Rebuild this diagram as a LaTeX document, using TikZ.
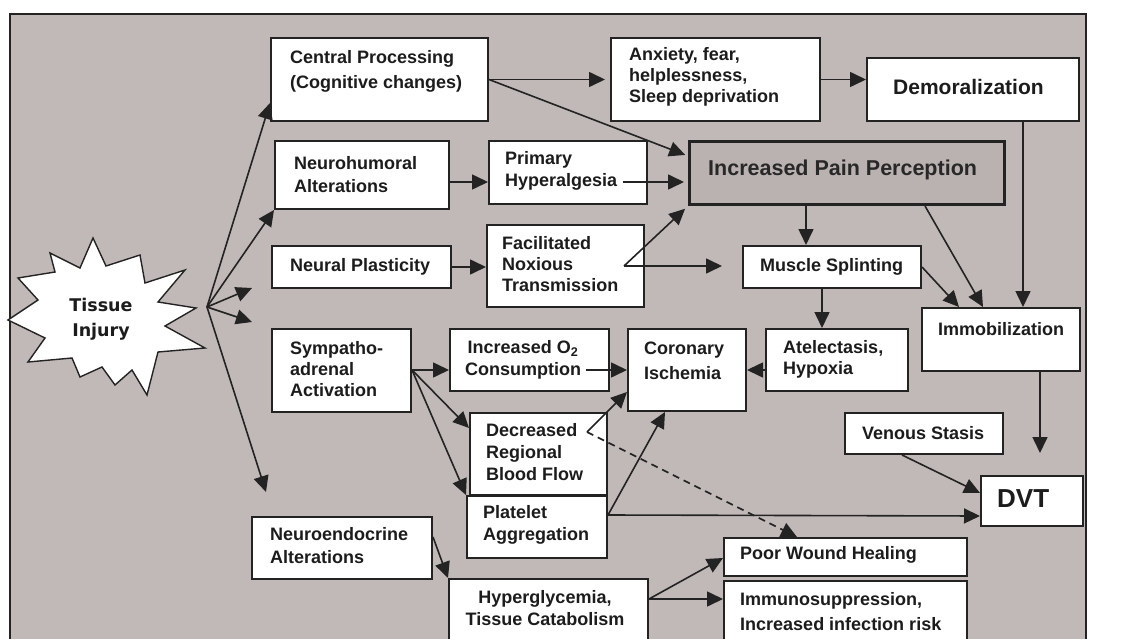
\documentclass[tikz,border=0pt]{standalone}
\usepackage{fontspec}
\setmainfont{Liberation Sans}
\newfontfamily\starfont{DejaVu Sans}
\usetikzlibrary{arrows.meta}
\definecolor{bgc}{RGB}{193,185,184}
\definecolor{painc}{RGB}{186,178,177}
\definecolor{linec}{RGB}{35,35,35}
\definecolor{txtc}{RGB}{28,28,28}
\tikzset{
  box/.style={draw=linec, line width=2pt, fill=white, anchor=north west, inner sep=0pt},
  txt/.style={font=\bfseries\fontsize{18}{22}\selectfont, text=txtc, inner sep=0pt, align=left, anchor=west},
  arr/.style={draw=linec, line width=1.6pt, -{Triangle[length=16pt,width=15pt]}},
}
\newcommand{\bs}[1]{\bfseries\fontsize{18}{#1}\selectfont}
\begin{document}
\begin{tikzpicture}[x=1pt,y=-1pt]
\useasboundingbox (0,0) rectangle (1124,639);
\clip (0,0) rectangle (1124,639);
\draw[linec, line width=1.6pt, fill=bgc] (10,14) rectangle (1086,680);

% starburst
\draw[linec, line width=1.4pt, fill=white]
  (8,320) -- (38,300) -- (18,278) -- (55,272) -- (50,253) -- (80,268) -- (93,238)
  -- (106,266) -- (140,255) -- (145,283) -- (185,270) -- (158,302) -- (196,308)
  -- (165,326) -- (205,348) -- (158,352) -- (147,395) -- (132,370) -- (115,385)
  -- (102,367) -- (80,377) -- (72,358) -- (28,362) -- (45,338) -- cycle;
\node[font=\starfont\bfseries\fontsize{17.5}{25}\selectfont, text=txtc, align=center, inner sep=0pt] (ti) at (101,319) {Tissue\\Injury};

% boxes
\node[box, minimum width=217pt, minimum height=83pt] (cp) at (270,37) {};
\node[box, minimum width=209pt, minimum height=83pt] (anx) at (610,37) {};
\node[box, minimum width=212pt, minimum height=63pt] (dem) at (866,57) {};
\node[box, minimum width=174pt, minimum height=68pt] (neu) at (274,140) {};
\node[box, minimum width=158pt, minimum height=63pt] (ph) at (488,140) {};
\node[box, minimum width=315pt, minimum height=63pt, fill=painc, line width=3pt] (pain) at (688,140) {};
\node[box, minimum width=179pt, minimum height=42pt] (np) at (271,245) {};
\node[box, minimum width=157pt, minimum height=82pt] (fnt) at (486,224) {};
\node[box, minimum width=178pt, minimum height=42pt] (ms) at (742,245) {};
\node[box, minimum width=158pt, minimum height=63pt] (imm) at (921,307) {};
\node[box, minimum width=139pt, minimum height=83pt] (sym) at (271,328) {};
\node[box, minimum width=159pt, minimum height=62pt] (o2) at (449,328) {};
\node[box, minimum width=118pt, minimum height=82pt] (cor) at (627,328) {};
\node[box, minimum width=142pt, minimum height=62pt] (atel) at (765,328) {};
\node[box, minimum width=158pt, minimum height=41pt] (vs) at (844,412) {};
\node[box, minimum width=137pt, minimum height=82pt] (drbf) at (469,412) {};
\node[box, minimum width=102pt, minimum height=50pt] (dvt) at (980,475) {};
\node[box, minimum width=140pt, minimum height=62pt] (plat) at (466,495) {};
\node[box, minimum width=180pt, minimum height=62pt] (ne) at (251,516) {};
\node[box, minimum width=243pt, minimum height=38pt] (pwh) at (723,537) {};
\node[box, minimum width=199pt, minimum height=80pt] (hyp) at (448,578) {};
\node[box, minimum width=243pt, minimum height=80pt] (imu) at (723,580) {};

% texts
\node[txt, font=\bs{25}] (cp-t) at (290,71) {Central Processing\\(Cognitive changes)};
\node[txt, font=\bs{21}] (anx-t) at (629,77) {Anxiety, fear,\\helplessness,\\Sleep deprivation};
\node[txt, font=\bfseries\fontsize{21}{25}\selectfont] (dem-t) at (893,87) {Demoralization};
\node[txt, font=\bs{23}] (neu-t) at (294,175) {Neurohumoral\\Alterations};
\node[txt] (ph-t) at (505,171) {Primary\\Hyperalgesia};
\node[txt, font=\bfseries\fontsize{21.5}{25}\selectfont, text={rgb,255:red,40;green,40;blue,40}] (pain-t) at (708,170) {Increased Pain Perception};
\node[txt] (np-t) at (290,267) {Neural Plasticity};
\node[txt, font=\bs{21}] (fnt-t) at (502,264) {Facilitated\\Noxious\\Transmission};
\node[txt] (ms-t) at (760,267) {Muscle Splinting};
\node[txt] (imm-t) at (938,329) {Immobilization};
\node[txt, font=\bs{21}] (sym-t) at (290,369) {Sympatho-\\adrenal\\Activation};
\node[txt, align=center, anchor=center] (o2-t) at (523,360) {Increased O\textsubscript{2}\\Consumption};
\node[txt, font=\bs{25}] (cor-t) at (644,361) {Coronary\\Ischemia};
\node[txt, font=\bs{21}] (atel-t) at (783,359) {Atelectasis,\\Hypoxia};
\node[txt] (vs-t) at (862,433) {Venous Stasis};
\node[txt] (drbf-t) at (486,452) {Decreased\\Regional\\Blood Flow};
\node[txt, font=\bfseries\fontsize{26}{30}\selectfont] (dvt-t) at (997,499) {DVT};
\node[txt] (plat-t) at (483,525) {Platelet\\Aggregation};
\node[txt, font=\bs{23}] (ne-t) at (270,546) {Neuroendocrine\\Alterations};
\node[txt] (pwh-t) at (740,555) {Poor Wound Healing};
\node[txt, align=center, anchor=center] (hyp-t) at (545,608) {Hyperglycemia,\\Tissue Catabolism};
\node[txt, font=\bs{25}] (imu-t) at (740,612) {Immunosuppression,\\Increased infection risk};

% free-end coordinates
\coordinate (hub) at (207,307);
\coordinate (e1) at (252,288);
\coordinate (e2) at (252,322);
\coordinate (e3) at (266,492);
\coordinate (phs) at (623,182);
\coordinate (fnts) at (624,266);
\coordinate (o2s) at (586,370);
\coordinate (drbfs) at (587,432);
\coordinate (imme) at (1040,453);

% connectors
\draw[arr] (hub) -- (cp.west |- 0,103);
\draw[arr] (hub) -- (neu.south west);
\draw[arr] (hub) -- (e1);
\draw[arr] (hub) -- (e2);
\draw[arr] (hub) -- (e3);
\draw[arr, shorten >=5pt] (cp.east) -- (anx.west |- cp.east);
\draw[arr, shorten >=3pt] (cp.east) -- (pain.west |- 0,156);
\draw[arr] (anx.east) -- (dem.west |- anx.east);
\draw[arr] (dem.south -| 1023,0) -- (imm.north -| 1023,0);
\draw[arr] (neu.east |- 0,182) -- (ph.west |- 0,182);
\draw[arr, shorten >=4pt] (phs) -- (pain.west |- phs);
\draw[arr] (np.east) -- (np.east -| fnt.west);
\draw[arr, shorten >=4pt] (fnts) -- (pain.south west);
\draw[arr, shorten >=20pt] (fnts) -- (ms.west |- fnts);
\draw[arr] (pain.south -| 806,0) -- (ms.north -| 806,0);
\draw[arr] (pain.south -| 925,0) -- (imm.north -| 983,0);
\draw[arr] (ms.east |- 0,267) -- (imm.north -| 959,0);
\draw[arr] (ms.south -| 822,0) -- (atel.north -| 822,0);
\draw[arr] (atel.west |- 0,370) -- (cor.east |- 0,370);
\draw[arr] (sym.east |- 0,370) -- (o2.west |- 0,370);
\draw[arr] (o2s) -- (cor.west |- o2s);
\draw[arr] (sym.east |- 0,370) -- (drbf.west |- 0,428);
\draw[arr] (sym.east |- 0,370) -- (plat.north west);
\draw[arr] (drbfs) -- (cor.west |- 0,392);
\draw[arr, dash pattern=on 7pt off 5pt] (drbfs) -- (pwh.north -| 797,0);
\draw[arr] (plat.east |- 0,515) -- (cor.south -| 665,0);
\draw[arr] (plat.east |- 0,515) -- (dvt.west |- 0,516);
\draw[arr] (vs.south -| 902,0) -- (dvt.west |- 0,493);
\draw[arr] (imm.south -| 1040,0) -- (imme);
\draw[arr] (ne.east |- 0,537) -- (hyp.north west);
\draw[arr] (hyp.east |- 0,599) -- (pwh.west |- 0,558);
\draw[arr] (hyp.east |- 0,599) -- (imu.west |- 0,599);
\end{tikzpicture}
\end{document}
